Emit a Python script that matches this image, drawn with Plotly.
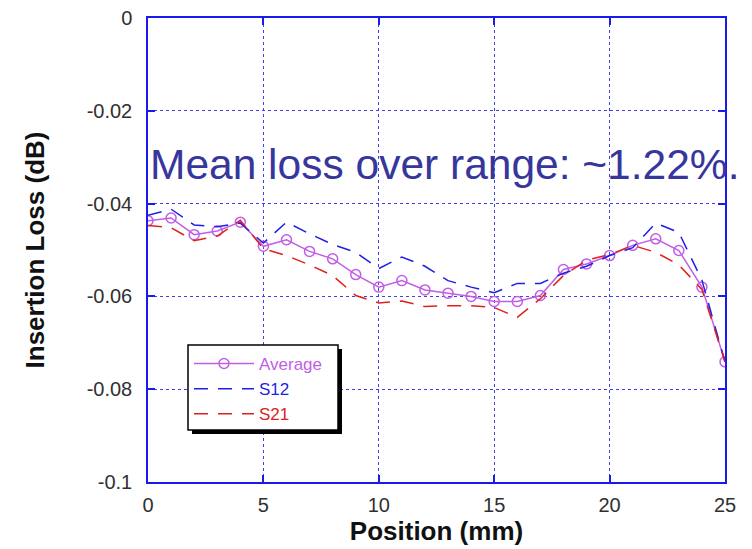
import plotly.graph_objects as go

# Insertion loss measured along the probe position
position_mm = list(range(0, 26))

average_db = [-0.0437, -0.0431, -0.0467, -0.0459, -0.0440, -0.0492, -0.0478, -0.0503,
              -0.0519, -0.0553, -0.0580, -0.0566, -0.0586, -0.0593, -0.0600, -0.0611,
              -0.0611, -0.0598, -0.0542, -0.0530, -0.0512, -0.0490, -0.0476, -0.0501,
              -0.0580, -0.0741]

s12_db = [-0.0425, -0.0412, -0.0446, -0.0450, -0.0442, -0.0485, -0.0440, -0.0465,
          -0.0488, -0.0505, -0.0540, -0.0515, -0.0535, -0.0566, -0.0580, -0.0592,
          -0.0572, -0.0572, -0.0550, -0.0535, -0.0512, -0.0495, -0.0442, -0.0462,
          -0.0565, -0.0741]

s21_db = [-0.0447, -0.0452, -0.0480, -0.0470, -0.0436, -0.0497, -0.0512, -0.0532,
          -0.0555, -0.0598, -0.0614, -0.0610, -0.0622, -0.0620, -0.0620, -0.0624,
          -0.0645, -0.0605, -0.0555, -0.0522, -0.0510, -0.0490, -0.0505, -0.0532,
          -0.0585, -0.0741]

x_ticks = [0, 5, 10, 15, 20, 25]
y_ticks = [0, -0.02, -0.04, -0.06, -0.08, -0.1]
y_tick_text = ["0", "-0.02", "-0.04", "-0.06", "-0.08", "-0.1"]

note_text = "Mean loss over range: ~1.22%."

W, H = 752, 549
ML, MR, MT, MB = 148, 27, 18, 67
PW, PH = W - ML - MR, H - MT - MB


def px_x(p):
    return (p - ML) / PW


def px_y(p):
    return (H - MB - p) / PH


AXIS_BLUE = "#1a1aee"
GRID_BLUE = "#4040f0"
AVG_COLOR = "#c25ee6"
S12_COLOR = "#1f1fe6"
S21_COLOR = "#e02020"


def colored(label, color):
    return f"<span style='color:{color}'>{label}</span>"


fig = go.Figure()

fig.add_trace(go.Scatter(
    x=position_mm, y=average_db, name=colored("Average", AVG_COLOR), mode="lines+markers",
    line=dict(color=AVG_COLOR, width=1.5),
    marker=dict(symbol="circle-open", size=10, color=AVG_COLOR, line=dict(width=1.5)),
))
fig.add_trace(go.Scatter(
    x=position_mm, y=s12_db, name=colored("S12", S12_COLOR), mode="lines",
    line=dict(color=S12_COLOR, width=1.5, dash="14px,10px"),
))
fig.add_trace(go.Scatter(
    x=position_mm, y=s21_db, name=colored("S21", S21_COLOR), mode="lines",
    line=dict(color=S21_COLOR, width=1.5, dash="14px,10px"),
))

axis_common = dict(
    showline=True, linecolor=AXIS_BLUE, linewidth=1.5, mirror="ticks",
    ticks="inside", ticklen=7, tickcolor=AXIS_BLUE, tickwidth=1.5,
    showgrid=True, gridcolor=GRID_BLUE, gridwidth=1, griddash="dot",
    zeroline=False,
    tickfont=dict(family="Arial", size=20, color="#303030"),
)

fig.update_xaxes(
    range=[0, 25], tickvals=x_ticks, ticktext=[str(v) for v in x_ticks],
    ticklabelstandoff=4,
    title=dict(text="<b>Position (mm)</b>", font=dict(family="Arial", size=26, color="#111"),
               standoff=6),
    **axis_common,
)
fig.update_yaxes(
    range=[-0.1, 0], tickvals=y_ticks, ticktext=y_tick_text,
    ticklabelstandoff=10,
    title=dict(text="<b>Insertion Loss (dB)</b>", font=dict(family="Arial", size=26, color="#111"),
               standoff=35),
    **axis_common,
)

# legend frame: black drop shadow, then a white box with a thin black border
fig.add_shape(type="rect", xref="paper", yref="paper",
              x0=px_x(192), x1=px_x(342), y0=px_y(434), y1=px_y(349),
              fillcolor="black", line=dict(width=0), layer="above")
fig.add_shape(type="rect", xref="paper", yref="paper",
              x0=px_x(188), x1=px_x(338), y0=px_y(430), y1=px_y(345),
              fillcolor="white", line=dict(color="black", width=1.5), layer="above")

fig.add_annotation(
    text=note_text, xref="paper", yref="paper",
    x=px_x(148), y=px_y(164), xanchor="left", yanchor="middle",
    showarrow=False, font=dict(family="Arial", size=42.5, color="#36369c"),
)

fig.update_layout(
    width=W, height=H,
    margin=dict(l=ML, r=MR, t=MT, b=MB, autoexpand=False),
    paper_bgcolor="white", plot_bgcolor="white",
    showlegend=True,
    legend=dict(
        x=px_x(189), y=px_y(346), xanchor="left", yanchor="top",
        bgcolor="rgba(0,0,0,0)", borderwidth=0,
        font=dict(family="Arial", size=17), itemwidth=60,
        tracegroupgap=0,
    ),
)

fig.write_html("out.html")
